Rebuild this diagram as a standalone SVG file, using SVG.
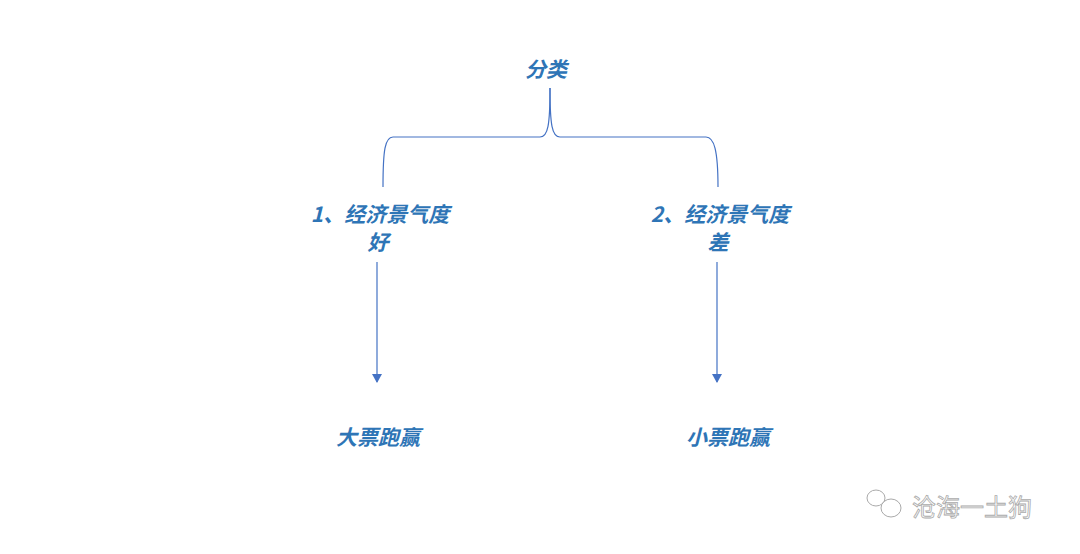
<svg xmlns="http://www.w3.org/2000/svg" width="1080" height="554" viewBox="0 0 1080 554">
<style>
.t{font-family:"Noto Sans CJK SC","Liberation Sans",sans-serif;font-size:21px;font-style:italic;font-weight:bold;fill:#2e75b6;text-anchor:middle}
.l{fill:none;stroke:#4472c4;stroke-width:1.2}
.w{font-family:"Noto Sans CJK SC",sans-serif;font-size:24px;fill:#fff;stroke:#aaa;stroke-width:0.8}
</style>
<defs><marker id="a" markerWidth="10" markerHeight="10" refX="8" refY="5" orient="auto" markerUnits="userSpaceOnUse"><path d="M0,0 L9,5 L0,10 z" fill="#4472c4"/></marker></defs>
<rect width="1080" height="554" fill="#fff"/>
<g id="connectors">
<path class="l" d="M550,88 C550,125 548,137 540,137 L393,137 C385,137 383,150 383,187"/>
<path class="l" d="M550,88 C550,125 552,137 560,137 L706,137 C714,137 718,150 718,187"/>
<path class="l" d="M377,262 L377,382" marker-end="url(#a)"/>
<path class="l" d="M717,262 L717,382" marker-end="url(#a)"/>
</g>
<g id="n0"><text class="t" x="546" y="77">分类</text></g>
<g id="n1"><text class="t" x="380" y="222">1、经济景气度</text><text class="t" x="378" y="250">好</text></g>
<g id="n2"><text class="t" x="720" y="222">2、经济景气度</text><text class="t" x="718" y="250">差</text></g>
<g id="n3"><text class="t" x="378" y="445">大票跑赢</text></g>
<g id="n4"><text class="t" x="728" y="445">小票跑赢</text></g>
<g id="wm">
<ellipse cx="876" cy="498" rx="9" ry="8" fill="#fff" stroke="#aaa"/>
<ellipse cx="891" cy="508" rx="10" ry="9" fill="#fff" stroke="#aaa"/>
<text class="w" x="912" y="516">沧海一土狗</text>
</g>
</svg>
